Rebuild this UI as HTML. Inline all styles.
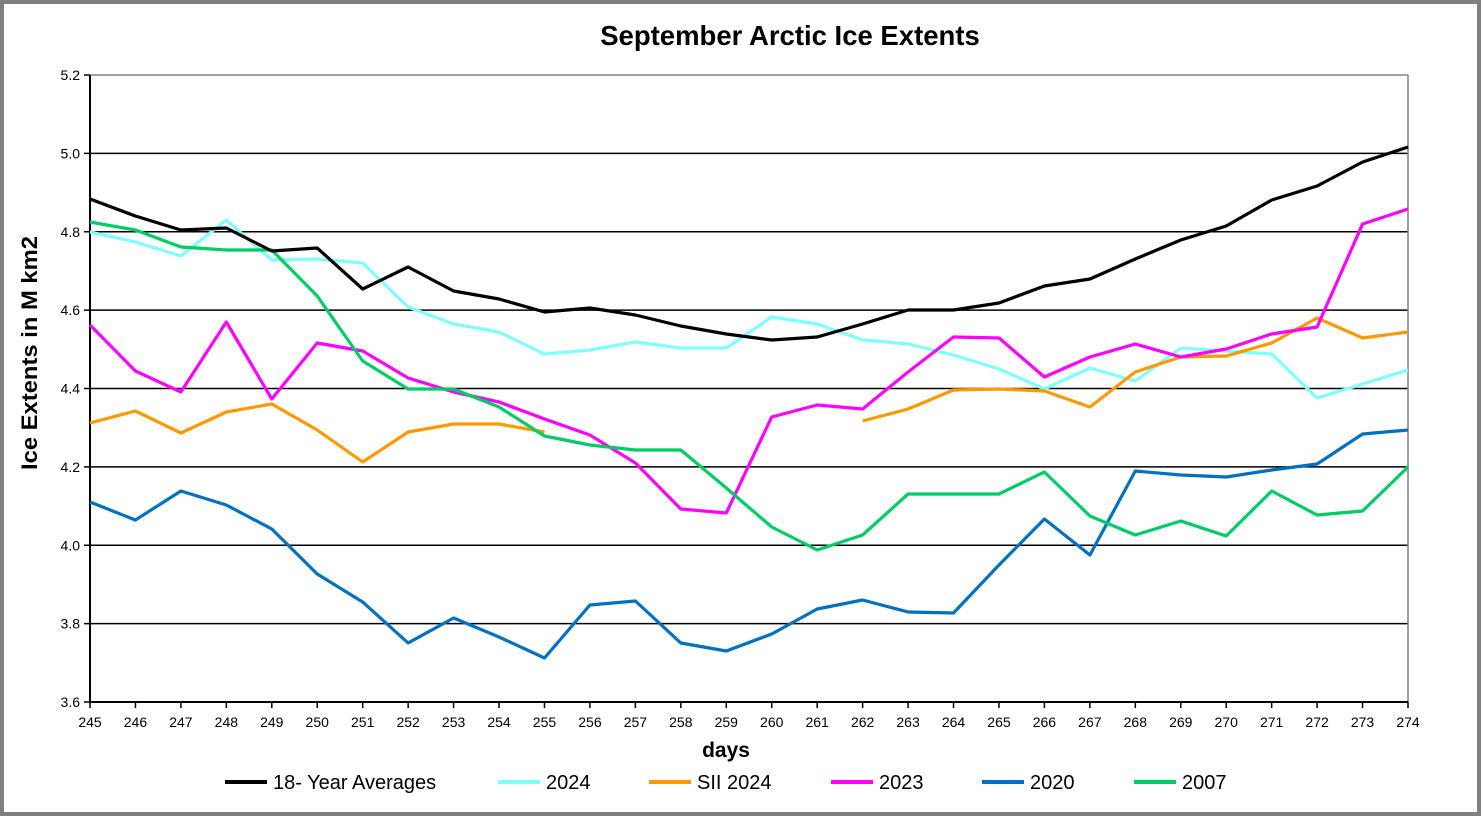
<!DOCTYPE html>
<html><head><style>
html,body{margin:0;padding:0;background:#fff}
svg{display:block}
text{font-family:"Liberation Sans",Arial,sans-serif}
</style></head><body>
<svg id="s" width="1481" height="816" xmlns="http://www.w3.org/2000/svg">
<rect x="2" y="2" width="1477" height="812" fill="#fff" stroke="#808080" stroke-width="4"/>
<text x="790" y="45" font-size="27.5" font-weight="bold" text-anchor="middle">September Arctic Ice Extents</text>
<text transform="translate(37,353) rotate(-90)" font-size="22" font-weight="bold" text-anchor="middle" textLength="234" lengthAdjust="spacingAndGlyphs">Ice Extents in M km2</text>
<text x="726" y="757" font-size="21" font-weight="bold" text-anchor="middle">days</text>
<g id="g"></g>
</svg>
<script>
var g=document.getElementById('g'),h='';
var X0=90,X1=1408,st=(X1-X0)/29;
var labs=['5.2','5.0','4.8','4.6','4.4','4.2','4.0','3.8','3.6'];
for(var i=0;i<9;i++){var y=75+i*78.375;
 if(i>0&&i<8)h+='<line x1="'+X0+'" x2="'+X1+'" y1="'+y+'" y2="'+y+'" stroke="#000" stroke-width="1.5"/>';
 h+='<line x1="84" x2="'+X0+'" y1="'+y+'" y2="'+y+'" stroke="#000" stroke-width="1.5"/>';
 h+='<text x="80" y="'+(y+5)+'" font-size="14" text-anchor="end">'+labs[i]+'</text>';}
h+='<line x1="'+X0+'" x2="'+X1+'" y1="75" y2="75" stroke="#808080" stroke-width="1.5"/>';
h+='<line x1="'+X1+'" x2="'+X1+'" y1="75" y2="702" stroke="#808080" stroke-width="1.5"/>';
h+='<line x1="'+X0+'" x2="'+X0+'" y1="75" y2="702" stroke="#000" stroke-width="2"/>';
h+='<line x1="'+X0+'" x2="'+X1+'" y1="702" y2="702" stroke="#000" stroke-width="2"/>';
for(var i=0;i<30;i++){var x=X0+i*st;
 h+='<line x1="'+x+'" x2="'+x+'" y1="702" y2="708" stroke="#000" stroke-width="1.5"/>';
 h+='<text x="'+x+'" y="727" font-size="14" text-anchor="middle">'+(245+i)+'</text>';}
function line(arr,c,off){var p=[];arr.forEach(function(v,i){p.push((X0+(i+off)*st).toFixed(1)+','+v)});
 h+='<polyline points="'+p.join(' ')+'" fill="none" stroke="'+c+'" stroke-width="3.2" stroke-linejoin="round"/>';}
line([232,242,256,220,260,259,263,307,324,332,354,350,342,348,348,317,324,340,344,355,369,389,368,381,348,351,354,398,384,370],'#80ffff',0);
line([423,411,433,412,404,430,462,432,424,424,432],'#ff9900',0);
line([421,409,390,389,391,407,372,357,356,343,318,338,332],'#ff9900',17);
line([325,371,392,322,399,343,351,378,392,402,419,435,463,509,513,417,405,409,372,337,338,377,357,344,357,349,334,327,224,209],'#ff00ff',0);
line([502,520,491,505,529,574,602,643,618,637,658,605,601,643,651,634,609,600,612,613,565,519,555,471,475,477,470,464,434,430],'#0070c0',0);
line([222,230,247,250,250,296,361,389,389,407,436,445,450,450,488,527,550,535,494,494,494,472,516,535,521,536,491,515,511,467],'#00cc66',0);
line([199,216,230,228,251,248,289,267,291,299,312,308,315,326,334,340,337,324,310,310,303,286,279,259,240,226,200,186,162,147],'#000',0);
var lg=[['18- Year Averages','#000',225],['2024','#80ffff',498],['SII 2024','#ff9900',649],['2023','#ff00ff',831],['2020','#0070c0',982],['2007','#00cc66',1134]];
lg.forEach(function(l){h+='<line x1="'+l[2]+'" x2="'+(l[2]+42)+'" y1="782" y2="782" stroke="'+l[1]+'" stroke-width="4"/>';
 h+='<text x="'+(l[2]+48)+'" y="789" font-size="20">'+l[0]+'</text>';});
g.innerHTML=h;
</script>
</body></html>
